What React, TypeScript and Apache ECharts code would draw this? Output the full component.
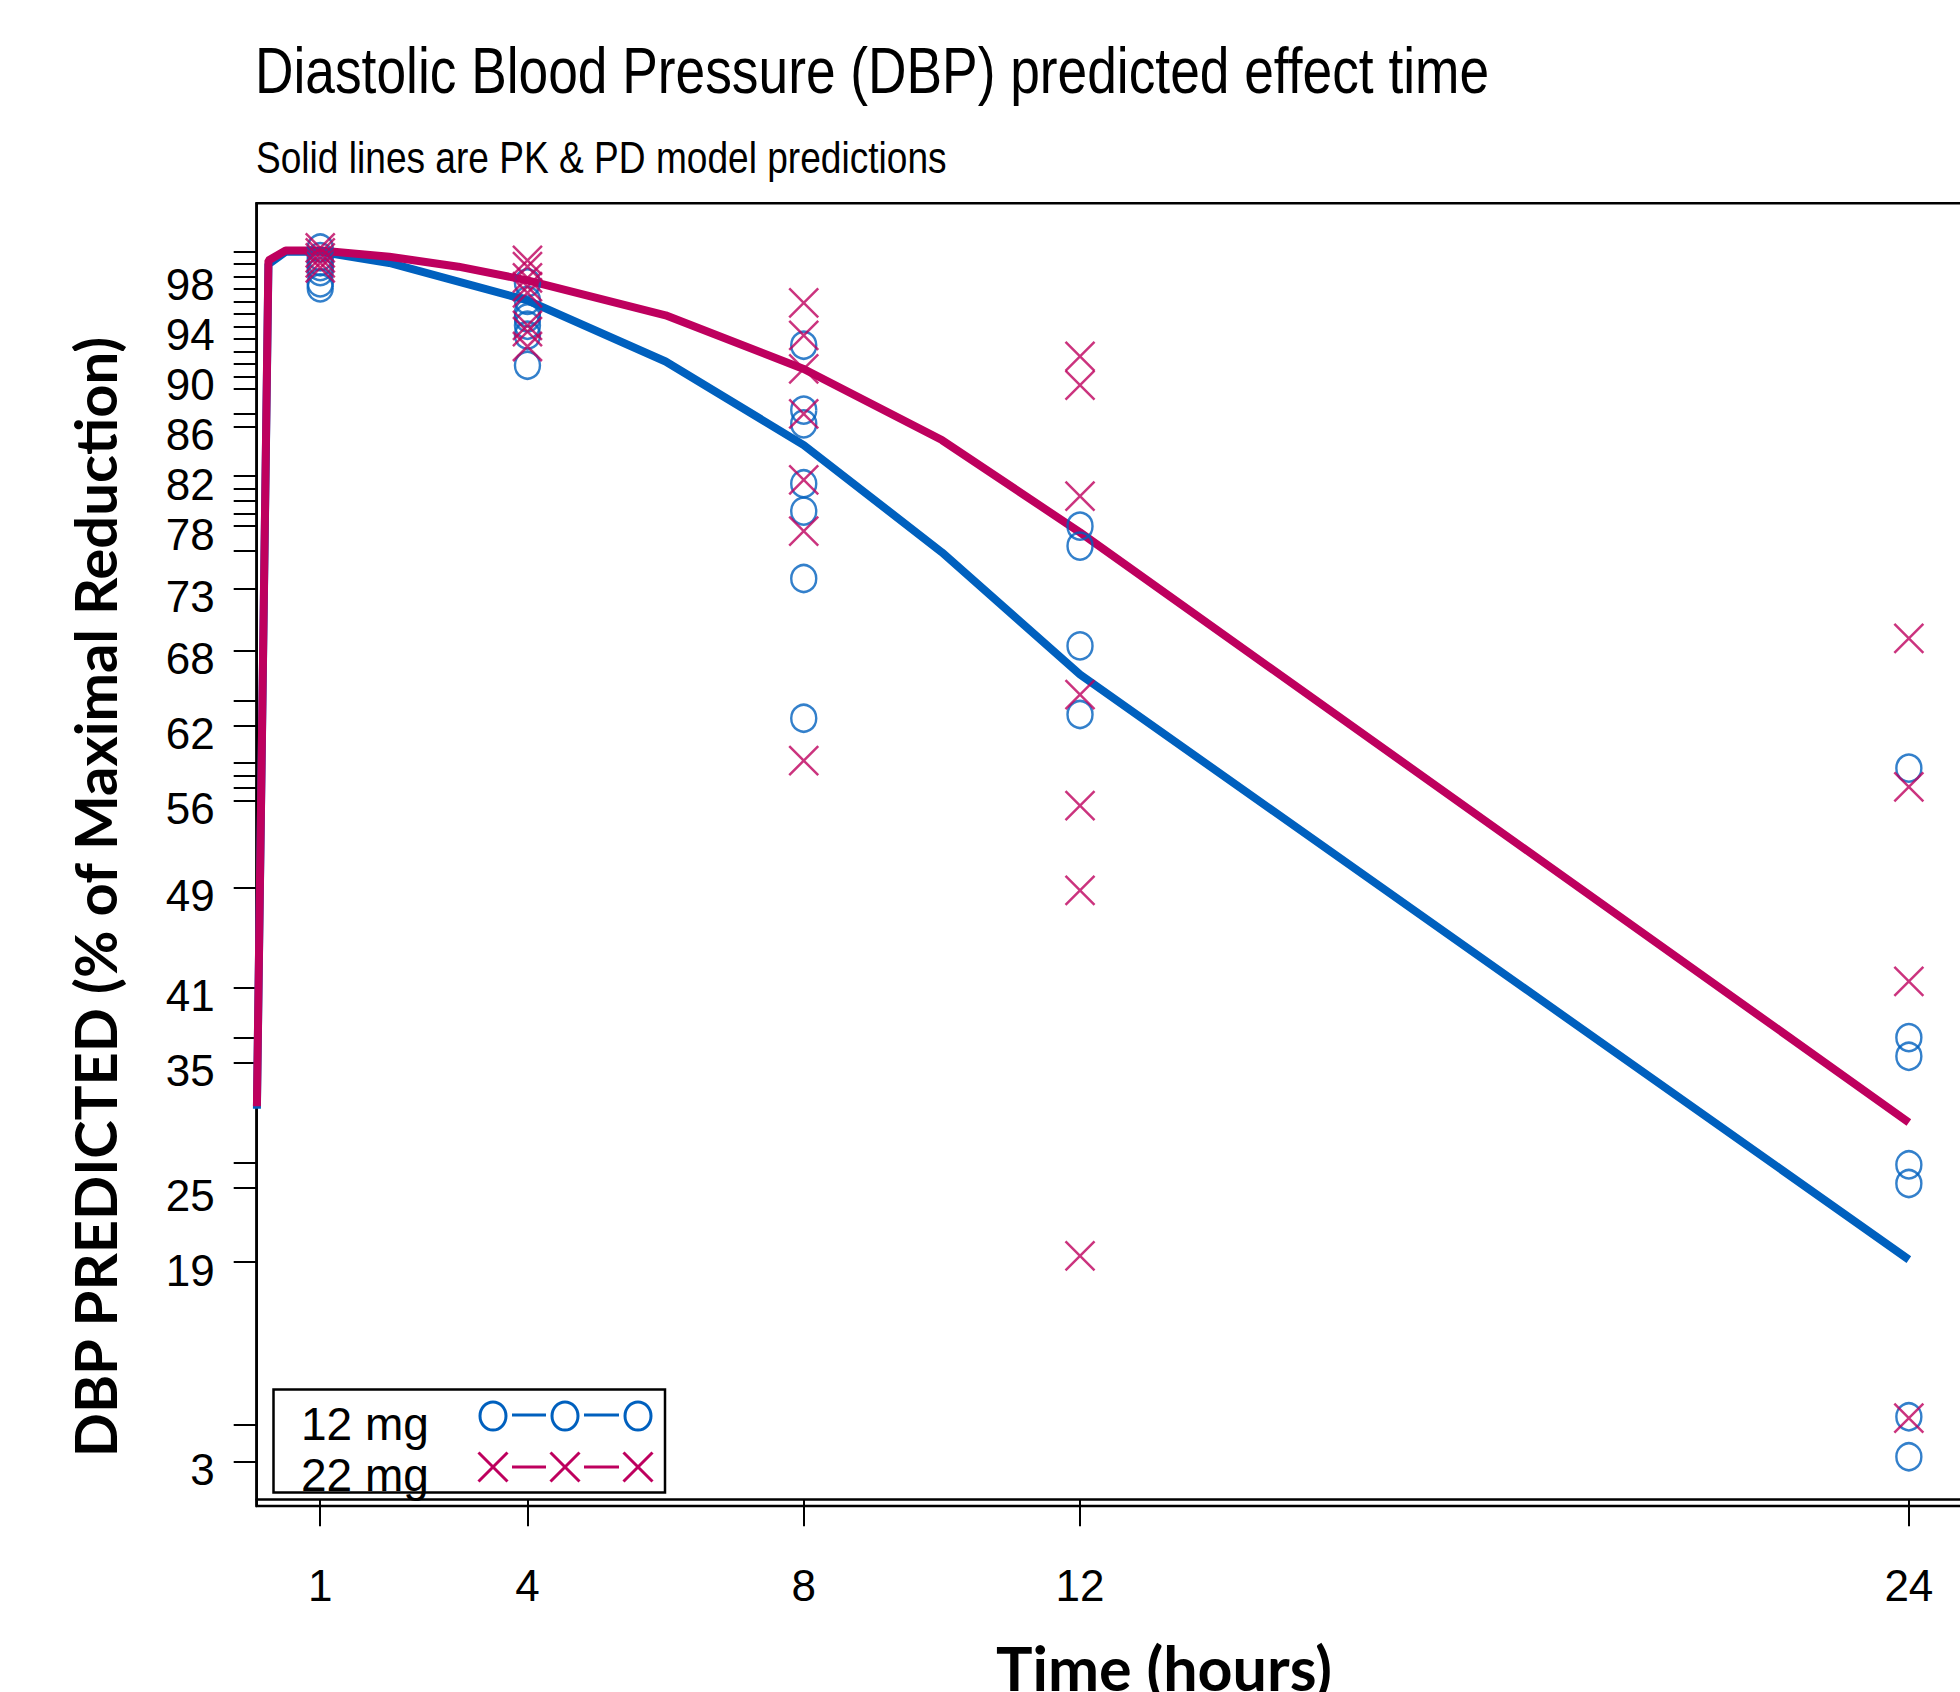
import React, { useEffect, useRef } from 'react';
import * as echarts from 'echarts';

const TITLE = 'Diastolic Blood Pressure (DBP) predicted effect time';
const SUBTITLE = 'Solid lines are PK & PD model predictions';
const X_NAME = 'Time (hours)';
const Y_NAME = 'DBP PREDICTED (% of Maximal Reduction)';
const DOSE_NAMES = ['12 mg', '22 mg'];

const xTickValues = [1, 4, 8, 12, 24];
const yLabelValues = [98, 94, 90, 86, 82, 78, 73, 68, 62, 56, 49, 41, 35, 25, 19, 3];
const yTickValues = [100, 99, 98, 97, 96, 95, 94, 93, 92, 91, 90, 89, 87, 86, 82, 81, 80, 79, 78, 76, 73, 68, 64, 62, 59, 58, 57, 56, 49, 41, 37, 35, 27, 25, 19, 6, 3];

// model predictions
const predTimes = [0.083, 0.25, 0.5, 1, 2, 3, 4, 6, 8, 10, 12, 24];
const pred12mg = [31.3, 99.0, 100.0, 100.0, 99.1, 97.6, 96.1, 91.2, 84.5, 75.9, 66.1, 19.2];
const pred22mg = [31.5, 99.3, 100.1, 100.1, 99.6, 98.8, 97.7, 94.9, 90.6, 84.9, 77.5, 30.2];

// observations, one list per time point
const obsTimes = [1, 4, 8, 12, 24];
const obs12mg = [
  [100.3, 99.6, 99.2, 98.8, 98.4, 97.5, 97.1],
  [97.5, 96.1, 95.1, 94.7, 94.1, 93.3, 90.9],
  [92.5, 87.3, 86.2, 81.4, 79.2, 73.8, 62.6],
  [78.0, 76.4, 68.4, 62.9],
  [58.6, 37.0, 35.5, 26.8, 25.3, 6.6, 3.4],
];
const obs22mg = [
  [100.3, 99.9, 99.5, 99.1, 98.7],
  [99.3, 98.8, 97.9, 97.2, 96.7, 94.1, 93.6, 92.4],
  [95.9, 93.3, 90.6, 87.0, 81.7, 77.6, 59.2],
  [91.6, 89.3, 80.4, 64.5, 55.6, 48.8, 19.5],
  [69.0, 57.1, 41.5, 6.5],
];

const BLUE = '#0060BE';
const RED = '#BE005E';
const SANS = '"Liberation Sans", Arial, sans-serif';
const BOLD = 'Lato, "Open Sans", sans-serif';

function pairs(times: number[], vals: number[]) {
  return times.map((t, i) => [t, vals[i]]);
}
function obsPairs(lists: number[][]) {
  const out: number[][] = [];
  lists.forEach((l, i) => l.forEach((v) => out.push([obsTimes[i], v])));
  return out;
}

function crossEls(cx: number, cy: number, h: number, color: string) {
  return [
    { type: 'line', shape: { x1: cx - h, y1: cy - h, x2: cx + h, y2: cy + h }, style: { stroke: color, lineWidth: 3 }, z: 100 },
    { type: 'line', shape: { x1: cx - h, y1: cy + h, x2: cx + h, y2: cy - h }, style: { stroke: color, lineWidth: 3 }, z: 100 },
  ];
}

export default function App() {
  const ref = useRef<HTMLDivElement>(null);
  useEffect(() => {
    if (!ref.current) return;
    const chart = echarts.init(ref.current, undefined, { renderer: 'svg' });
    const legendX = [493, 565, 638];
    const legendEls: any[] = [
      { type: 'rect', shape: { x: 273.5, y: 1389.5, width: 391.5, height: 103 }, style: { fill: 'none', stroke: '#000', lineWidth: 2.5 }, z: 100 },
      { type: 'text', x: 301, y: 1424, style: { text: DOSE_NAMES[0], fontSize: 46, fontFamily: SANS, fill: '#000', verticalAlign: 'middle' }, z: 100 },
      { type: 'text', x: 301, y: 1475, style: { text: DOSE_NAMES[1], fontSize: 46, fontFamily: SANS, fill: '#000', verticalAlign: 'middle' }, z: 100 },
    ];
    legendX.forEach((x) => {
      legendEls.push({ type: 'ellipse', shape: { cx: x, cy: 1416, rx: 13, ry: 14 }, style: { fill: 'none', stroke: BLUE, lineWidth: 3 }, z: 100 });
      legendEls.push(...crossEls(x, 1467, 14.5, RED));
    });
    for (let i = 0; i < 2; i++) {
      const a = legendX[i] + 19;
      const b = legendX[i + 1] - 19;
      legendEls.push({ type: 'line', shape: { x1: a, y1: 1415, x2: b, y2: 1415 }, style: { stroke: BLUE, lineWidth: 3 }, z: 100 });
      legendEls.push({ type: 'line', shape: { x1: a, y1: 1467, x2: b, y2: 1467 }, style: { stroke: RED, lineWidth: 3 }, z: 100 });
    }

    chart.setOption({
      animation: false,
      backgroundColor: '#fff',
      grid: {
        left: 256.7,
        top: 203.3,
        right: 17.6,
        bottom: 186,
        show: true,
        borderColor: '#000',
        borderWidth: 2.5,
        backgroundColor: 'transparent',
      },
      xAxis: {
        type: 'value',
        min: 0.08,
        max: 24.92,
        axisLine: { show: true, lineStyle: { color: '#000', width: 2.5 } },
        axisTick: { show: true, customValues: xTickValues, length: 27, inside: false, lineStyle: { color: '#000', width: 2 } },
        axisLabel: {
          show: true,
          customValues: xTickValues,
          formatter: (v: number) => String(v),
          fontSize: 44,
          fontFamily: SANS,
          color: '#000',
          margin: 79,
          verticalAlign: 'middle',
        },
        splitLine: { show: false },
      },
      yAxis: {
        type: 'value',
        min: -0.55,
        max: 103.88,
        axisLine: { show: true, lineStyle: { color: '#000', width: 2.5 } },
        axisTick: { show: true, customValues: yTickValues, length: 23, inside: false, lineStyle: { color: '#000', width: 2 } },
        axisLabel: {
          show: true,
          customValues: yLabelValues,
          formatter: (v: number) => String(v),
          fontSize: 44,
          fontFamily: SANS,
          color: '#000',
          margin: 42,
          verticalAlign: 'top',
          lineHeight: 16,
        },
        splitLine: { show: false },
      },
      graphic: [
        { type: 'text', x: 255, y: 71, scaleX: 0.8325, style: { text: TITLE, fontSize: 64, fontFamily: SANS, fill: '#000', verticalAlign: 'middle' } },
        { type: 'text', x: 256, y: 158, scaleX: 0.843, style: { text: SUBTITLE, fontSize: 44, fontFamily: SANS, fill: '#000', verticalAlign: 'middle' } },
        { type: 'text', x: 94, y: 897, rotation: Math.PI / 2, style: { text: Y_NAME, fontSize: 58, fontWeight: 'bold', fontFamily: BOLD, fill: '#000', align: 'center', verticalAlign: 'middle' } },
        { type: 'text', x: 1164, y: 1667, style: { text: X_NAME, fontSize: 61, fontWeight: 'bold', fontFamily: BOLD, fill: '#000', align: 'center', verticalAlign: 'middle' } },
        ...legendEls,
      ],
      series: [
        {
          name: DOSE_NAMES[0] + ' model',
          type: 'line',
          data: pairs(predTimes, pred12mg),
          showSymbol: false,
          lineStyle: { color: BLUE, width: 8 },
          z: 2,
          silent: true,
        },
        {
          name: DOSE_NAMES[1] + ' model',
          type: 'line',
          data: pairs(predTimes, pred22mg),
          showSymbol: false,
          lineStyle: { color: RED, width: 8 },
          z: 3,
          silent: true,
        },
        {
          name: DOSE_NAMES[0],
          type: 'scatter',
          data: obsPairs(obs12mg),
          symbol: 'circle',
          symbolSize: [25, 27],
          itemStyle: { color: 'rgba(0,0,0,0)', borderColor: BLUE, borderWidth: 2.5 },
          z: 4,
          silent: true,
        },
        {
          name: DOSE_NAMES[1],
          type: 'scatter',
          data: obsPairs(obs22mg),
          symbol: 'path://M0 0L10 10M10 0L0 10',
          symbolSize: [29, 29],
          itemStyle: { color: 'rgba(0,0,0,0)', borderColor: RED, borderWidth: 2.5 },
          z: 5,
          silent: true,
        },
      ],
    });
    return () => chart.dispose();
  }, []);
  return (
    <div style={{ position: 'absolute', left: 0, top: 0, width: 1960, height: 1692, overflow: 'hidden', background: '#fff' }}>
      <div ref={ref} style={{ width: 1990, height: 1692 }} />
    </div>
  );
}
